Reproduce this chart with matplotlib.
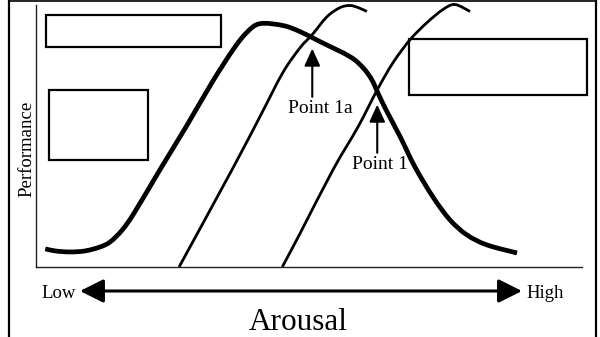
import matplotlib
matplotlib.use("Agg")
import numpy as np
import matplotlib.pyplot as plt
from matplotlib.patches import Rectangle, FancyArrowPatch, PathPatch
from matplotlib.path import Path
from matplotlib.lines import Line2D

plt.rcParams['font.family'] = ['Liberation Serif', 'DejaVu Serif']

# inverted-U performance curve (arousal, performance)
main_x = [1.7, 3.5, 6.2, 9.0, 11.7, 13.6, 15.8, 18.0, 22.7, 27.5, 32.2, 36.1,
          38.6, 41.0, 45.2, 48.4, 52.0, 57.5, 59.9, 61.5, 62.6, 64.1, 66.7,
          69.4, 72.7, 75.8, 78.9, 82.6, 88.1]
main_y = [7.0, 6.2, 5.8, 6.2, 7.7, 9.7, 14.3, 20.9, 37.5, 54.1, 71.0, 83.8,
          90.4, 93.8, 93.1, 90.7, 86.9, 81.1, 76.8, 72.2, 67.2, 60.6, 50.2,
          38.6, 27.0, 18.2, 12.4, 8.5, 5.4]

# two shifted rising curves
rise1_x = [26.2, 35.9, 41.0, 45.2, 48.4, 50.6, 53.3, 55.7, 57.5, 59.0, 60.6]
rise1_y = [0.0, 37.5, 57.9, 74.9, 84.6, 89.6, 96.5, 100.0, 100.8, 100.0, 98.5]
rise2_x = [45.1, 48.4, 54.4, 59.0, 62.5, 65.4, 68.5, 71.6, 74.5, 76.7, 79.5]
rise2_y = [0.0, 13.1, 37.5, 54.1, 68.3, 78.8, 87.6, 94.2, 99.2, 101.2, 98.5]

# labelled points: (name, arrow x, arrow tip y, arrow tail y, text x)
points = [("Point 1a", 50.6, 84.2, 65.6, 52.1),
          ("Point 1", 62.5, 62.6, 44.0, 63.0)]


def smooth_path(xs, ys):
    # catmull-rom through the given points, drawn as cubic beziers
    p = np.column_stack([xs, ys])
    p = np.vstack([p[0], p, p[-1]])
    verts = [p[1]]
    codes = [Path.MOVETO]
    for i in range(1, len(p) - 2):
        c1 = p[i] + (p[i + 1] - p[i - 1]) / 6
        c2 = p[i + 1] - (p[i + 2] - p[i]) / 6
        verts += [c1, c2, p[i + 1]]
        codes += [Path.CURVE4] * 3
    return Path(verts, codes)


fig = plt.figure(figsize=(6, 3.37), dpi=100)
ax = fig.add_axes([36 / 600, 70 / 337, 546 / 600, 262 / 337])
ax.set_xlim(0, 100)
ax.set_ylim(0, 101)
ax.set_xticks([])
ax.set_yticks([])
for s in ['top', 'right']:
    ax.spines[s].set_visible(False)
for s in ['left', 'bottom']:
    ax.spines[s].set_linewidth(1.0)
    ax.spines[s].set_color('#222222')

for xs, ys, w in [(main_x, main_y, 3.4), (rise1_x, rise1_y, 2.0),
                  (rise2_x, rise2_y, 2.0)]:
    ax.add_patch(PathPatch(smooth_path(xs, ys), fill=False, lw=w,
                           edgecolor='black', capstyle='butt',
                           joinstyle='round', clip_on=False))

# empty boxes
for x0, y0, w, h in [(1.8, 84.9, 32.1, 12.4), (2.4, 41.3, 18.1, 27.0),
                     (68.3, 66.4, 32.6, 21.6)]:
    ax.add_patch(Rectangle((x0, y0), w, h, fill=False, lw=1.6,
                           edgecolor='black', clip_on=False))

for name, px, tip, tail, tx in points:
    ax.add_patch(FancyArrowPatch((px, tail), (px, tip),
                                 arrowstyle='-|>,head_length=10.5,head_width=4.8',
                                 mutation_scale=1, lw=1.5, color='black',
                                 shrinkA=0, shrinkB=0, clip_on=False))
    ax.text(tx, tail - 6.1, name, ha='center', va='baseline', fontsize=14)

# low-high arousal arrow under the axes
fig.patches.append(FancyArrowPatch((80 / 600, 0.1365), (522 / 600, 0.1365),
                                   transform=fig.transFigure,
                                   arrowstyle='<|-|>,head_length=14.4,head_width=7.2',
                                   mutation_scale=1, lw=2.2, color='black',
                                   shrinkA=0, shrinkB=0))
fig.text(75.5 / 600, 0.1157, 'Low', ha='right', va='baseline', fontsize=13.5)
fig.text(526 / 600, 0.1157, 'High', ha='left', va='baseline', fontsize=13.5)
fig.text(298 / 600, 0.0208, 'Arousal', ha='center', va='baseline', fontsize=22.5)
fig.text(27 / 600, 0.558, 'Performance', ha='center', va='center',
         rotation=90, fontsize=13.5)

# frame around the figure (open at the bottom)
fig.lines.append(Line2D([8.5 / 600, 8.5 / 600], [0, 1], transform=fig.transFigure,
                        color='black', lw=1.6))
fig.lines.append(Line2D([595.5 / 600, 595.5 / 600], [0, 1], transform=fig.transFigure,
                        color='black', lw=1.6))
fig.lines.append(Line2D([8.5 / 600, 595.5 / 600], [0.998, 0.998],
                        transform=fig.transFigure, color='black', lw=1.2))

fig.savefig('out.png', dpi=100)
